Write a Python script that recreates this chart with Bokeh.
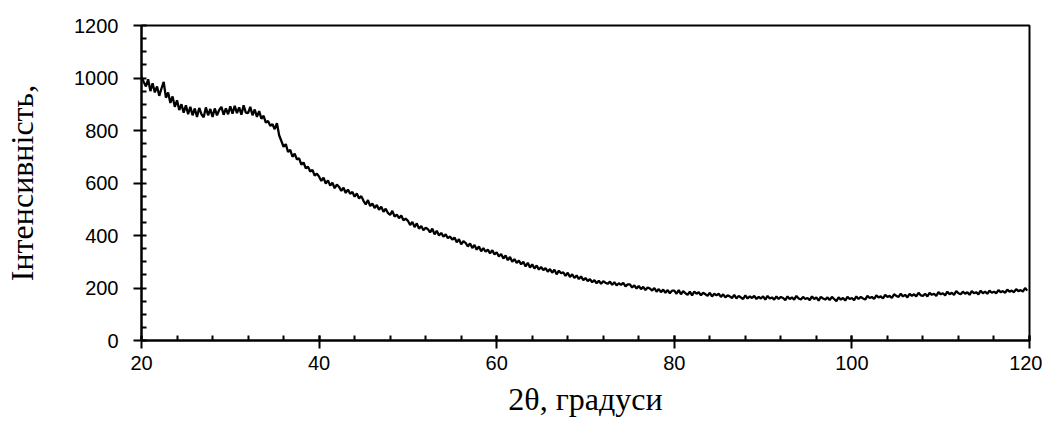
from bokeh.plotting import figure
from bokeh.models import Range1d, FixedTicker
from bokeh.embed import file_html
from bokeh.resources import INLINE

# 2theta grid: start 20, step 0.25 deg
theta_start = 20.0
theta_step = 0.25

intensity = [
    # 20.00 - 24.75
    1005, 985, 968, 995, 950, 980, 945, 968, 932, 960, 985, 925, 945, 905, 930, 890, 915, 878, 900, 868,
    # 25.00 - 29.75
    896, 862, 890, 858, 884, 852, 886, 862, 850, 888, 858, 882, 852, 884, 858, 878, 890, 860, 884, 862,
    # 30.00 - 34.75
    892, 864, 894, 866, 888, 860, 896, 868, 866, 890, 858, 880, 852, 874, 845, 856, 830, 836, 818, 824,
    # 35.00 - 39.75
    805, 828, 782, 760, 738, 748, 718, 726, 700, 712, 690, 694, 670, 678, 656, 662, 644, 650, 628, 636,
    # 40.00 - 44.75
    624, 608, 620, 598, 610, 590, 601, 580, 594, 585, 570, 582, 562, 575, 559, 566, 548, 560, 541, 550,
    # 45.00 - 49.75
    532, 518, 535, 512, 522, 505, 516, 498, 510, 490, 502, 486, 478, 494, 472, 480, 466, 476, 458, 464,
    # 50.00 - 54.75
    456, 440, 452, 432, 446, 426, 436, 420, 430, 424, 412, 426, 404, 418, 400, 410, 396, 404, 390, 396,
    # 55.00 - 59.75
    384, 392, 374, 386, 366, 378, 372, 358, 370, 352, 364, 346, 358, 340, 352, 338, 346, 332, 344, 328,
    # 60.00 - 64.75
    336, 320, 330, 312, 324, 306, 318, 300, 310, 296, 304, 290, 300, 282, 296, 278, 290, 274, 286, 270,
    # 65.00 - 69.75
    280, 268, 276, 262, 272, 258, 270, 252, 266, 256, 260, 246, 258, 242, 252, 238, 248, 234, 244, 230,
    # 70.00 - 74.75
    238, 226, 234, 222, 230, 218, 228, 216, 226, 220, 216, 224, 212, 222, 210, 218, 212, 220, 206, 214,
    # 75.00 - 79.75
    214, 202, 210, 198, 208, 196, 204, 192, 202, 198, 190, 200, 186, 196, 184, 194, 182, 192, 180, 190,
    # 80.00 - 84.75
    190, 178, 192, 176, 188, 180, 174, 186, 172, 186, 178, 184, 172, 182, 176, 170, 182, 168, 178, 172,
    # 85.00 - 89.75
    178, 166, 176, 164, 172, 168, 162, 174, 160, 170, 164, 158, 172, 160, 168, 162, 170, 158, 166, 160,
    # 90.00 - 94.75
    168, 156, 170, 160, 164, 156, 168, 158, 166, 162, 154, 168, 158, 164, 156, 170, 160, 156, 166, 158,
    # 95.00 - 99.75
    162, 154, 168, 158, 164, 152, 166, 160, 156, 164, 154, 166, 158, 150, 164, 156, 162, 152, 166, 158,
    # 100.00 - 104.75
    162, 154, 168, 158, 166, 160, 156, 170, 162, 166, 158, 172, 164, 168, 160, 174, 166, 170, 162, 176,
    # 105.00 - 109.75
    170, 166, 178, 168, 174, 164, 178, 170, 176, 168, 182, 172, 170, 178, 168, 182, 174, 178, 170, 184,
    # 110.00 - 114.75
    176, 180, 172, 186, 176, 182, 174, 188, 180, 176, 186, 178, 184, 174, 188, 180, 184, 176, 190, 180,
    # 115.00 - 119.75
    186, 178, 190, 182, 186, 180, 192, 184, 188, 182, 194, 186, 190, 184, 196, 188, 192, 186, 200, 190,
]

two_theta = [theta_start + theta_step * i for i in range(len(intensity))]

x_ticks = [20, 40, 60, 80, 100, 120]
x_minor = list(range(20, 121, 4))
y_ticks = [0, 200, 400, 600, 800, 1000, 1200]
y_minor = list(range(0, 1201, 50))

x_title = "2θ, градуси"
y_title = "Інтенсивність,"

p = figure(width=1042, height=428, output_backend="svg", toolbar_location=None,
           x_range=Range1d(20, 120), y_range=Range1d(0, 1200),
           min_border_left=141, min_border_right=13, min_border_top=25, min_border_bottom=88)

p.line(two_theta, intensity, line_color="black", line_width=2.3)

p.grid.visible = False
p.outline_line_color = "black"
p.outline_line_width = 2
p.outline_line_alpha = 1.0

p.xaxis.ticker = FixedTicker(ticks=x_ticks, minor_ticks=x_minor)
p.yaxis.ticker = FixedTicker(ticks=y_ticks, minor_ticks=y_minor)

for ax in (p.xaxis, p.yaxis):
    ax.axis_line_color = "black"
    ax.axis_line_width = 2
    ax.major_tick_line_color = "black"
    ax.major_tick_line_width = 2
    ax.minor_tick_line_color = "black"
    ax.minor_tick_line_width = 2
    ax.major_label_text_font = "Liberation Sans"
    ax.major_label_text_font_size = "20px"
    ax.major_label_text_color = "black"
    ax.axis_label_text_font = "Liberation Serif"
    ax.axis_label_text_font_size = "32px"
    ax.axis_label_text_font_style = "normal"
    ax.axis_label_text_color = "black"

p.xaxis.major_tick_in = 5
p.xaxis.major_tick_out = 8
p.xaxis.minor_tick_in = 5
p.xaxis.minor_tick_out = 0
p.xaxis.major_label_standoff = 7
p.xaxis.axis_label = x_title
p.xaxis.axis_label_standoff = 8

p.yaxis.major_tick_in = 0
p.yaxis.major_tick_out = 8
p.yaxis.minor_tick_in = 5
p.yaxis.minor_tick_out = 0
p.yaxis.major_label_standoff = 15
p.yaxis.axis_label = y_title
p.yaxis.axis_label_standoff = 31

open("out.html", "w").write(file_html(p, INLINE))
